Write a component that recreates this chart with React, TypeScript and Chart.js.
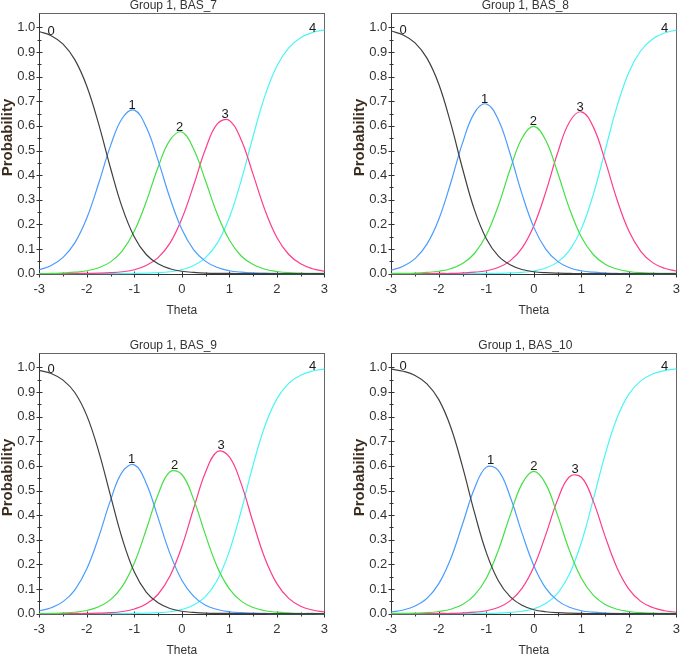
import React, { useEffect, useRef } from 'react';
import { Chart, registerables } from 'chart.js';

Chart.register(...registerables);

// ---- data ----
const THETA = [-3, -2.75, -2.5, -2.25, -2, -1.75, -1.5, -1.25, -1, -0.75, -0.5, -0.25, 0, 0.25, 0.5, 0.75, 1, 1.25, 1.5, 1.75, 2, 2.25, 2.5, 2.75, 3];
const CATEGORIES = ['0', '1', '2', '3', '4'];
const X_TICKS = [-3, -2, -1, 0, 1, 2, 3];
const Y_TICKS = [0, 0.1, 0.2, 0.3, 0.4, 0.5, 0.6, 0.7, 0.8, 0.9, 1.0];
const TITLES = ['Group 1, BAS_7', 'Group 1, BAS_8', 'Group 1, BAS_9', 'Group 1, BAS_10'];

const BAS7_C0 = [0.983, 0.966, 0.932, 0.868, 0.761, 0.607, 0.428, 0.266, 0.149, 0.078, 0.040, 0.020, 0.010, 0.005, 0.002, 0.001, 0.001, 0, 0, 0, 0, 0, 0, 0, 0];
const BAS7_C1 = [0.016, 0.033, 0.066, 0.126, 0.226, 0.367, 0.520, 0.632, 0.664, 0.595, 0.460, 0.307, 0.180, 0.097, 0.050, 0.025, 0.012, 0.006, 0.003, 0.002, 0.001, 0, 0, 0, 0];
const BAS7_C2 = [0.001, 0.001, 0.003, 0.006, 0.012, 0.024, 0.048, 0.094, 0.173, 0.292, 0.432, 0.542, 0.575, 0.505, 0.376, 0.240, 0.137, 0.072, 0.037, 0.018, 0.009, 0.004, 0.002, 0.001, 0.001];
const BAS7_C3 = [0, 0, 0, 0.001, 0.001, 0.002, 0.004, 0.008, 0.016, 0.033, 0.065, 0.124, 0.223, 0.360, 0.507, 0.609, 0.622, 0.543, 0.403, 0.258, 0.147, 0.078, 0.040, 0.020, 0.010];
const BAS7_C4 = [0, 0, 0, 0, 0, 0, 0, 0, 0.001, 0.002, 0.004, 0.008, 0.016, 0.033, 0.065, 0.125, 0.228, 0.379, 0.558, 0.723, 0.843, 0.917, 0.958, 0.979, 0.990];

const BAS8_C0 = [0.985, 0.969, 0.937, 0.875, 0.769, 0.611, 0.426, 0.259, 0.142, 0.072, 0.036, 0.017, 0.008, 0.004, 0.002, 0.001, 0, 0, 0, 0, 0, 0, 0, 0, 0];
const BAS8_C1 = [0.014, 0.030, 0.061, 0.120, 0.221, 0.368, 0.531, 0.653, 0.689, 0.626, 0.487, 0.324, 0.188, 0.100, 0.050, 0.024, 0.012, 0.006, 0.003, 0.001, 0.001, 0, 0, 0, 0];
const BAS8_C2 = [0.001, 0.001, 0.002, 0.005, 0.010, 0.020, 0.041, 0.082, 0.157, 0.275, 0.423, 0.550, 0.598, 0.542, 0.411, 0.264, 0.149, 0.078, 0.038, 0.019, 0.009, 0.004, 0.002, 0.001, 0.001];
const BAS8_C3 = [0, 0, 0, 0, 0.001, 0.001, 0.003, 0.006, 0.012, 0.025, 0.052, 0.104, 0.195, 0.331, 0.490, 0.616, 0.657, 0.596, 0.459, 0.301, 0.173, 0.091, 0.045, 0.022, 0.011];
const BAS8_C4 = [0, 0, 0, 0, 0, 0, 0, 0, 0.001, 0.001, 0.003, 0.005, 0.011, 0.023, 0.047, 0.095, 0.182, 0.321, 0.500, 0.679, 0.818, 0.905, 0.953, 0.977, 0.989];

const BAS9_C0 = [0.988, 0.975, 0.948, 0.897, 0.804, 0.659, 0.478, 0.302, 0.169, 0.088, 0.044, 0.021, 0.010, 0.005, 0.002, 0.001, 0.001, 0, 0, 0, 0, 0, 0, 0, 0];
const BAS9_C1 = [0.011, 0.024, 0.049, 0.097, 0.182, 0.311, 0.461, 0.577, 0.604, 0.530, 0.389, 0.244, 0.136, 0.070, 0.034, 0.017, 0.008, 0.004, 0.002, 0.001, 0, 0, 0, 0, 0];
const BAS9_C2 = [0.001, 0.001, 0.003, 0.006, 0.013, 0.028, 0.057, 0.112, 0.206, 0.341, 0.484, 0.576, 0.565, 0.463, 0.318, 0.188, 0.101, 0.051, 0.025, 0.012, 0.006, 0.003, 0.001, 0.001, 0];
const BAS9_C3 = [0, 0, 0, 0, 0.001, 0.002, 0.004, 0.009, 0.019, 0.039, 0.079, 0.153, 0.273, 0.428, 0.575, 0.658, 0.637, 0.527, 0.370, 0.224, 0.122, 0.062, 0.030, 0.015, 0.007];
const BAS9_C4 = [0, 0, 0, 0, 0, 0, 0, 0, 0.001, 0.002, 0.004, 0.008, 0.017, 0.035, 0.070, 0.138, 0.254, 0.418, 0.604, 0.763, 0.872, 0.935, 0.968, 0.985, 0.993];

const BAS10_C0 = [0.993, 0.984, 0.967, 0.933, 0.869, 0.758, 0.596, 0.411, 0.248, 0.135, 0.069, 0.034, 0.016, 0.008, 0.004, 0.002, 0.001, 0, 0, 0, 0, 0, 0, 0, 0];
const BAS10_C1 = [0.007, 0.015, 0.031, 0.062, 0.122, 0.223, 0.364, 0.508, 0.595, 0.582, 0.476, 0.328, 0.195, 0.104, 0.053, 0.026, 0.012, 0.006, 0.003, 0.001, 0.001, 0, 0, 0, 0];
const BAS10_C2 = [0.001, 0.001, 0.002, 0.004, 0.009, 0.018, 0.037, 0.075, 0.144, 0.256, 0.399, 0.527, 0.578, 0.527, 0.399, 0.256, 0.144, 0.075, 0.037, 0.018, 0.009, 0.004, 0.002, 0.001, 0.001];
const BAS10_C3 = [0, 0, 0, 0, 0.001, 0.001, 0.003, 0.006, 0.012, 0.025, 0.052, 0.103, 0.191, 0.320, 0.462, 0.556, 0.554, 0.457, 0.314, 0.187, 0.100, 0.050, 0.025, 0.012, 0.006];
const BAS10_C4 = [0, 0, 0, 0, 0, 0, 0, 0.001, 0.001, 0.002, 0.005, 0.010, 0.020, 0.041, 0.083, 0.161, 0.289, 0.463, 0.646, 0.794, 0.891, 0.945, 0.973, 0.987, 0.994];

// ---- styles ----
const COLORS = ['#404040', '#4a9cff', '#44e044', '#ff3b8a', '#4cf5f5'];
const FONT = '"Liberation Sans", Arial, Helvetica, sans-serif';
const CANVAS_W = 336;
const CANVAS_H = 315;

const PANELS = [
  { title: TITLES[0], series: [BAS7_C0, BAS7_C1, BAS7_C2, BAS7_C3, BAS7_C4], left: 0, top: 0 },
  { title: TITLES[1], series: [BAS8_C0, BAS8_C1, BAS8_C2, BAS8_C3, BAS8_C4], left: 352, top: 0 },
  { title: TITLES[2], series: [BAS9_C0, BAS9_C1, BAS9_C2, BAS9_C3, BAS9_C4], left: 0, top: 340 },
  { title: TITLES[3], series: [BAS10_C0, BAS10_C1, BAS10_C2, BAS10_C3, BAS10_C4], left: 352, top: 340 },
];

function labelAnchor(values: number[], k: number): [number, number] {
  if (k === 0) return [THETA[1], values[1]];
  if (k === CATEGORIES.length - 1) return [THETA[THETA.length - 2], values[values.length - 2]];
  let i = 0;
  for (let j = 1; j < values.length; j++) if (values[j] > values[i]) i = j;
  if (i > 0 && i < values.length - 1) {
    const a = values[i - 1], b = values[i], c = values[i + 1];
    const den = a - 2 * b + c;
    const off = den !== 0 ? (0.5 * (a - c)) / den : 0;
    const step = THETA[i + 1] - THETA[i];
    return [THETA[i] + off * step, b - 0.25 * (a - c) * off];
  }
  return [THETA[i], values[i]];
}

function decoPlugin(title: string, series: number[][]) {
  return {
    id: 'panelDeco',
    beforeDatasetsDraw(chart: any) {
      const { ctx, chartArea: a, scales } = chart;
      const xs = scales.x, ys = scales.y;
      const L = Math.round(a.left) + 0.5;
      const R = Math.round(a.right) + 0.5;
      const T = Math.round(a.top) + 0.5;
      const B = Math.round(a.bottom) + 0.5;
      ctx.save();
      ctx.lineWidth = 1;
      ctx.strokeStyle = '#666';
      ctx.strokeRect(L, T, R - L, B - T);
      ctx.strokeStyle = '#333';
      ctx.beginPath();
      ctx.moveTo(L, T); ctx.lineTo(L, B); ctx.lineTo(R, B);
      // y ticks: majors at Y_TICKS, minors halfway
      Y_TICKS.forEach((v, i) => {
        const py = Math.round(ys.getPixelForValue(v)) + 0.5;
        ctx.moveTo(L - 3, py); ctx.lineTo(L + 3, py);
        if (i < Y_TICKS.length - 1) {
          const pm = Math.round(ys.getPixelForValue((v + Y_TICKS[i + 1]) / 2)) + 0.5;
          ctx.moveTo(L - 2, pm); ctx.lineTo(L + 2, pm);
        }
      });
      X_TICKS.forEach((v, i) => {
        const px = Math.round(xs.getPixelForValue(v)) + 0.5;
        ctx.moveTo(px, B - 3); ctx.lineTo(px, B + 3);
        if (i < X_TICKS.length - 1) {
          const pm = Math.round(xs.getPixelForValue((v + X_TICKS[i + 1]) / 2)) + 0.5;
          ctx.moveTo(pm, B - 2); ctx.lineTo(pm, B + 2);
        }
      });
      ctx.stroke();
      ctx.restore();
    },
    afterDatasetsDraw(chart: any) {
      const { ctx, chartArea: a, scales } = chart;
      const xs = scales.x, ys = scales.y;
      ctx.save();
      // curve labels
      ctx.fillStyle = '#1a1a1a';
      ctx.font = `13px ${FONT}`;
      ctx.textAlign = 'center';
      ctx.textBaseline = 'alphabetic';
      series.forEach((vals, k) => {
        const [t, v] = labelAnchor(vals, k);
        ctx.fillText(CATEGORIES[k], xs.getPixelForValue(t), ys.getPixelForValue(v) - 1);
      });
      // panel title
      ctx.fillStyle = '#333';
      ctx.font = `12px ${FONT}`;
      ctx.textBaseline = 'middle';
      ctx.fillText(title, (a.left + a.right) / 2 - 8.5, a.top - 7.5);
      // x axis title
      ctx.fillText('Theta', (a.left + a.right) / 2, a.bottom + 36.5);
      // y axis title
      ctx.translate(a.left - 31.5, (a.top + a.bottom) / 2 - 6);
      ctx.rotate(-Math.PI / 2);
      ctx.fillStyle = '#3a2c1e';
      ctx.font = `bold 15px ${FONT}`;
      ctx.fillText('Probability', 0, 0);
      ctx.restore();
    },
  };
}

function Panel({ title, series, left, top }: { title: string; series: number[][]; left: number; top: number }) {
  const ref = useRef<HTMLCanvasElement | null>(null);
  useEffect(() => {
    if (!ref.current) return;
    const chart = new Chart(ref.current, {
      type: 'line',
      data: {
        datasets: series.map((vals, k) => ({
          label: CATEGORIES[k],
          data: THETA.map((t, i) => ({ x: t, y: vals[i] })),
          borderColor: COLORS[k],
          backgroundColor: COLORS[k],
          borderWidth: 1.2,
          pointRadius: 0,
          tension: 0.4,
          fill: false,
          clip: 3,
        })),
      },
      options: {
        animation: false,
        responsive: false,
        devicePixelRatio: 1,
        events: [],
        layout: { padding: { top: 13.3, right: CANVAS_W - 328.3, left: 0, bottom: 0 } },
        plugins: { legend: { display: false }, title: { display: false }, tooltip: { enabled: false } },
        scales: {
          x: {
            type: 'linear',
            min: -3,
            max: 3,
            afterBuildTicks: (s: any) => { s.ticks = X_TICKS.map((v) => ({ value: v })); },
            afterFit: (s: any) => { s.height = CANVAS_H - 273.7; },
            ticks: { color: '#333', font: { family: FONT, size: 13 }, padding: 8, maxRotation: 0, autoSkip: false, callback: (v: any) => String(v) },
            grid: { display: false, drawTicks: false },
            border: { display: false },
          },
          y: {
            type: 'linear',
            min: 0,
            max: 1.057,
            afterBuildTicks: (s: any) => { s.ticks = Y_TICKS.map((v) => ({ value: v })); },
            afterFit: (s: any) => { s.width = 39.3; },
            ticks: { color: '#333', font: { family: FONT, size: 13 }, padding: 4, autoSkip: false, callback: (v: any) => Number(v).toFixed(1) },
            grid: { display: false, drawTicks: false },
            border: { display: false },
          },
        },
      } as any,
      plugins: [decoPlugin(title, series)],
    });
    return () => chart.destroy();
  }, [title, series]);
  return (
    <canvas
      ref={ref}
      width={CANVAS_W}
      height={CANVAS_H}
      style={{ position: 'absolute', left, top, width: CANVAS_W, height: CANVAS_H }}
    />
  );
}

export default function App() {
  return (
    <div style={{ position: 'absolute', left: 0, top: 0, width: 684, height: 655, overflow: 'hidden', background: '#fff' }}>
      {PANELS.map((p) => (
        <Panel key={p.title} title={p.title} series={p.series} left={p.left} top={p.top} />
      ))}
    </div>
  );
}
